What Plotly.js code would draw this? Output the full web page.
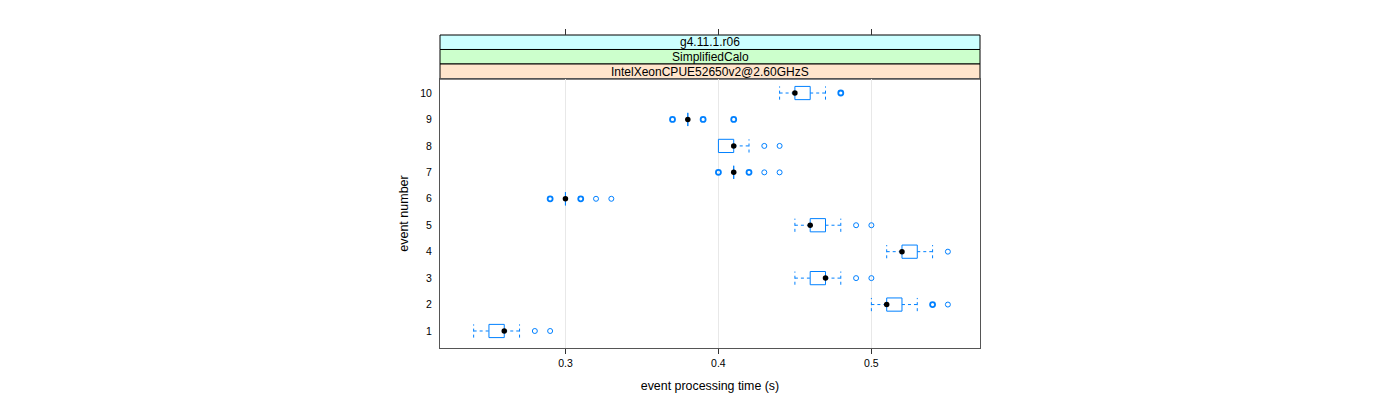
<!DOCTYPE html>
<html>
<head>
<meta charset="utf-8">
<script src="https://cdn.plot.ly/plotly-3.0.1.min.js"></script>
<style>html,body{margin:0;padding:0;background:#fff;}#chart{width:1400px;height:400px;}</style>
</head>
<body>
<div id="chart"></div>
<script>
// ---- data ----
const events      = [1, 2, 3, 4, 5, 6, 7, 8, 9, 10];
const lowWhisker  = [0.24, 0.50, 0.45, 0.51, 0.45, 0.30, 0.41, 0.40, 0.38, 0.44];
const q1          = [0.25, 0.51, 0.46, 0.52, 0.46, 0.30, 0.41, 0.40, 0.38, 0.45];
const medians     = [0.26, 0.51, 0.47, 0.52, 0.46, 0.30, 0.41, 0.41, 0.38, 0.45];
const q3          = [0.26, 0.52, 0.47, 0.53, 0.47, 0.30, 0.41, 0.41, 0.38, 0.46];
const highWhisker = [0.27, 0.53, 0.48, 0.54, 0.48, 0.30, 0.41, 0.42, 0.38, 0.47];
// outliers: event, value, how many overlap at that value
const outlierEvent = [1, 1, 2, 2, 3, 3, 4, 5, 5, 6, 6, 6, 6, 7, 7, 7, 7, 8, 8, 9, 9, 9, 10];
const outlierValue = [0.28, 0.29, 0.54, 0.55, 0.49, 0.50, 0.55, 0.49, 0.50, 0.29, 0.31, 0.32, 0.33,
                      0.40, 0.42, 0.43, 0.44, 0.43, 0.44, 0.37, 0.39, 0.41, 0.48];
const outlierCount = [1, 1, 2, 1, 1, 1, 1, 1, 1, 2, 2, 1, 1, 2, 2, 1, 1, 1, 1, 2, 2, 2, 2];
const xTicks = [0.3, 0.4, 0.5];
const xTickText = ['0.3', '0.4', '0.5'];
const stripLabels = ['g4.11.1.r06', 'SimplifiedCalo', 'IntelXeonCPUE52650v2@2.60GHzS'];
const stripColors = ['#ccffff', '#ccffcc', '#ffe5cc'];

// ---- styling ----
const BLUE = '#0080ff';
const H = 0.25;          // half box height (in category units)
const FONT = 'Liberation Sans, Arial, Helvetica, sans-serif';

// boxes
const bx = [], by = [];
// whiskers (dashed) + caps
const wx = [], wy = [];
events.forEach((e, i) => {
  bx.push(q1[i], q3[i], q3[i], q1[i], q1[i], null);
  by.push(e - H, e - H, e + H, e + H, e - H, null);
  if (highWhisker[i] > q3[i]) {
    wx.push(q3[i], highWhisker[i], null);
    wy.push(e, e, null);
    wx.push(highWhisker[i], highWhisker[i], null);
    wy.push(e - H, e + H, null);
  }
  if (lowWhisker[i] < q1[i]) {
    wx.push(lowWhisker[i], q1[i], null);
    wy.push(e, e, null);
    wx.push(lowWhisker[i], lowWhisker[i], null);
    wy.push(e - H, e + H, null);
  }
});

const traces = [
  { type: 'scatter', mode: 'lines', x: wx, y: wy, hoverinfo: 'skip',
    line: { color: BLUE, width: 1, dash: '3px,3px' }, showlegend: false },
  { type: 'scatter', mode: 'lines', x: bx, y: by, hoverinfo: 'skip',
    line: { color: BLUE, width: 1 }, showlegend: false },
  { type: 'scatter', mode: 'markers', x: outlierValue, y: outlierEvent, showlegend: false,
    marker: { symbol: 'circle', size: 5, color: 'rgba(255,255,255,0)',
              line: { color: BLUE, width: outlierCount.map(c => c > 1 ? 1.8 : 1) } } },
  { type: 'scatter', mode: 'markers', x: medians, y: events, showlegend: false,
    marker: { symbol: 'circle', size: 5.5, color: '#000000', line: { width: 0 } } },
  { type: 'scatter', mode: 'markers', x: [null], y: [null], xaxis: 'x2', yaxis: 'y',
    showlegend: false, hoverinfo: 'skip' }
];

// plot geometry in paper coords
const plotTop = 0.8594;
const stripEdges = [1.0, 0.9537, 0.9073, plotTop];

const shapes = [], annotations = [];
stripLabels.forEach((lab, k) => {
  shapes.push({ type: 'rect', xref: 'paper', yref: 'paper', x0: 0, x1: 1,
    y0: stripEdges[k + 1], y1: stripEdges[k], fillcolor: stripColors[k],
    line: { color: '#000000', width: 1 }, layer: 'below' });
  annotations.push({ xref: 'paper', yref: 'paper', x: 0.5, y: (stripEdges[k] + stripEdges[k + 1]) / 2,
    text: lab, showarrow: false, xanchor: 'center', yanchor: 'middle',
    font: { family: FONT, size: 12, color: '#000000' } });
});

const xrange = [0.218, 0.571];
const layout = {
  width: 1400, height: 400,
  margin: { l: 440, r: 420, t: 35, b: 52 },
  paper_bgcolor: '#ffffff', plot_bgcolor: '#ffffff',
  font: { family: FONT, size: 10.5, color: '#000000' },
  showlegend: false,
  xaxis: {
    range: xrange, tickvals: xTicks, ticktext: xTickText,
    ticks: 'outside', ticklen: 5, tickcolor: '#333333',
    showgrid: true, gridcolor: '#e8e8e8', gridwidth: 1, zeroline: false,
    showline: true, mirror: true, linecolor: '#555555', linewidth: 1,
    tickfont: { family: FONT, size: 10.5 },
    title: { text: 'event processing time (s)', font: { family: FONT, size: 12.4 }, standoff: 13 }
  },
  xaxis2: {
    overlaying: 'x', anchor: 'free', position: 1, side: 'top',
    range: xrange, tickvals: xTicks, ticks: 'outside', ticklen: 6, tickcolor: '#333333',
    showticklabels: false, showgrid: false, showline: false, zeroline: false
  },
  yaxis: {
    domain: [0, plotTop], range: [0.357, 10.53], tickvals: events, ticktext: events.map(String),
    ticks: 'outside', ticklen: 5, tickcolor: 'rgba(0,0,0,0)',
    showgrid: false, zeroline: false,
    showline: true, mirror: true, linecolor: '#555555', linewidth: 1,
    tickfont: { family: FONT, size: 10.5 },
    title: { text: 'event number', font: { family: FONT, size: 12.5 }, standoff: 8 }
  },
  shapes: shapes,
  annotations: annotations
};

Plotly.newPlot('chart', traces, layout, { displayModeBar: false, staticPlot: true });
</script>
</body>
</html>
